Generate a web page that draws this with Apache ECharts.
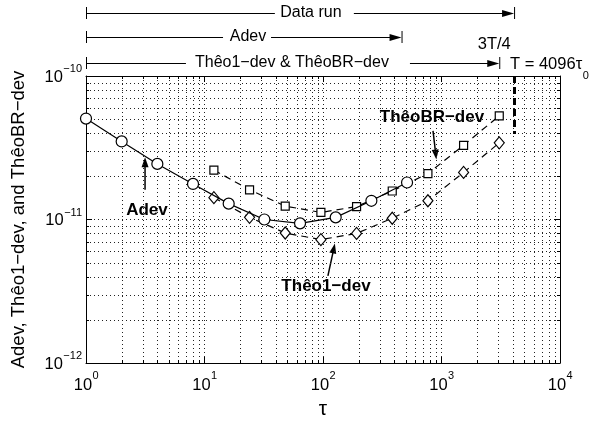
<!DOCTYPE html>
<html><head><meta charset="utf-8">
<script src="https://cdn.jsdelivr.net/npm/echarts@6/dist/echarts.min.js"></script>
<style>html,body{margin:0;padding:0;background:#fff}#c{width:601px;height:425px}</style>
</head><body><div id="c"></div>
<script>
// ---- data ----
const tauAdev = [1, 2, 4, 8, 16, 32, 64, 128, 256, 512];
const adev = [5.05e-11, 3.5e-11, 2.44e-11, 1.77e-11, 1.29e-11, 1.0e-11, 9.4e-12, 1.035e-11, 1.35e-11, 1.81e-11];
const tauTheo = [12, 24, 48, 96, 192, 384, 768, 1536, 3072];
const theoBR = [2.21e-11, 1.61e-11, 1.24e-11, 1.12e-11, 1.23e-11, 1.58e-11, 2.09e-11, 3.29e-11, 5.28e-11];
const theo1 = [1.42e-11, 1.035e-11, 8.05e-12, 7.24e-12, 8.0e-12, 1.02e-11, 1.35e-11, 2.13e-11, 3.42e-11];
const xRange = [1, 10000];
const yRange = [1e-12, 1e-10];
const xTickValues = [1, 10, 100, 1000, 10000];
const xTickExponents = ['0', '1', '2', '3', '4'];
const yTickValues = [1e-12, 1e-11, 1e-10];
const yTickExponents = ['\u221212', '\u221211', '\u221210'];
const xDecades = [1, 10, 100, 1000];
const yDecades = [1e-12, 1e-11];
const minorMultipliers = [2, 3, 4, 5, 6, 7, 8, 9];
const dataRunEnd = 4096, adevRangeEnd = 460, theoRangeEnd = 3072;
const tLineBottom = 3.95e-11;

const FONT = '"Liberation Sans", Arial, Helvetica, sans-serif';
const BLACK = '#000';
const GRID = '#222';
const dotted = [1, 3];

const xMinor = [], yMinor = [];
xDecades.forEach(d => minorMultipliers.forEach(m => xMinor.push(m * d)));
yDecades.forEach(d => minorMultipliers.forEach(m => yMinor.push(m * d)));

function baseAxis(extra) {
  return Object.assign({
    type: 'log', logBase: 10,
    axisLine: { show: true, lineStyle: { color: BLACK, width: 1 } },
    axisTick: { show: true, inside: true, length: 6, lineStyle: { color: BLACK } },
    axisLabel: { show: false },
    splitLine: { show: false },
    minorTick: { show: false }, minorSplitLine: { show: false }
  }, extra);
}

const chart = echarts.init(document.getElementById('c'));
const option = {
  animation: false,
  backgroundColor: '#fff',
  grid: { left: 86, right: 41, top: 76, bottom: 56, containLabel: false },
  xAxis: [
    baseAxis({ min: xRange[0], max: xRange[1], splitNumber: 4, position: 'bottom',
      splitLine: { show: true, lineStyle: { color: GRID, type: dotted, width: 1 } },
      name: '\u03c4', nameLocation: 'middle', nameGap: 36,
      nameTextStyle: { fontSize: 21, fontFamily: FONT, color: BLACK } }),
    baseAxis({ min: xRange[0], max: xRange[1], splitNumber: 4, position: 'top' })
  ],
  yAxis: [
    baseAxis({ min: yRange[0], max: yRange[1], splitNumber: 2, position: 'left',
      splitLine: { show: true, lineStyle: { color: GRID, type: dotted, width: 1 } },
      name: 'Adev, Th\u00eao1\u2212dev, and Th\u00eaoBR\u2212dev', nameLocation: 'middle', nameGap: 58, nameRotate: 90,
      nameTextStyle: { fontSize: 18.5, fontFamily: FONT, color: BLACK } }),
    baseAxis({ min: yRange[0], max: yRange[1], splitNumber: 2, position: 'right' })
  ],
  series: [
    { type: 'custom', silent: true, z: 1, clip: false,
      data: xMinor.map(v => [v, yRange[0]]),
      renderItem: function (params, api) {
        const cs = params.coordSys;
        const x = Math.round(api.coord([api.value(0), yRange[0]])[0]) + 0.5;
        const top = cs.y, bot = cs.y + cs.height;
        return { type: 'group', children: [
          { type: 'line', shape: { x1: x, y1: top, x2: x, y2: bot }, style: { stroke: GRID, lineWidth: 1, lineDash: dotted } },
          { type: 'line', shape: { x1: x, y1: bot, x2: x, y2: bot - 3 }, style: { stroke: BLACK, lineWidth: 1 } },
          { type: 'line', shape: { x1: x, y1: top, x2: x, y2: top + 3 }, style: { stroke: BLACK, lineWidth: 1 } }
        ] };
      } },
    { type: 'custom', silent: true, z: 1, clip: false,
      data: yMinor.map(v => [xRange[0], v]),
      renderItem: function (params, api) {
        const cs = params.coordSys;
        const y = Math.round(api.coord([xRange[0], api.value(1)])[1]) + 0.5;
        const l = cs.x, r = cs.x + cs.width;
        return { type: 'group', children: [
          { type: 'line', shape: { x1: l, y1: y, x2: r, y2: y }, style: { stroke: GRID, lineWidth: 1, lineDash: dotted } },
          { type: 'line', shape: { x1: l, y1: y, x2: l + 3, y2: y }, style: { stroke: BLACK, lineWidth: 1 } },
          { type: 'line', shape: { x1: r, y1: y, x2: r - 3, y2: y }, style: { stroke: BLACK, lineWidth: 1 } }
        ] };
      } },
    { type: 'line', name: 'Adev', z: 5,
      data: tauAdev.map((t, i) => [t, adev[i]]),
      symbol: 'circle', symbolSize: 11,
      lineStyle: { color: BLACK, width: 1.2 },
      itemStyle: { color: '#fff', borderColor: BLACK, borderWidth: 1.2 },
      emphasis: { disabled: true },
      markLine: { silent: true, symbol: ['none', 'none'], label: { show: false },
        lineStyle: { color: BLACK, width: 3, type: [7, 4] },
        data: [[{ coord: [dataRunEnd, yRange[1]] }, { coord: [dataRunEnd, tLineBottom] }]] } },
    { type: 'line', name: 'Th\u00eaoBR-dev', z: 4,
      data: tauTheo.map((t, i) => [t, theoBR[i]]),
      symbol: 'rect', symbolSize: 8,
      lineStyle: { color: BLACK, width: 1.2, type: [7, 5] },
      itemStyle: { color: '#fff', borderColor: BLACK, borderWidth: 1.2 },
      emphasis: { disabled: true } },
    { type: 'line', name: 'Th\u00eao1-dev', z: 4,
      data: tauTheo.map((t, i) => [t, theo1[i]]),
      symbol: 'diamond', symbolSize: [10, 12],
      lineStyle: { color: BLACK, width: 1.2, type: [7, 5] },
      itemStyle: { color: '#fff', borderColor: BLACK, borderWidth: 1.2 },
      emphasis: { disabled: true } }
  ]
};
chart.setOption(option);

// ---- helpers ----
const mctx = document.createElement('canvas').getContext('2d');
function tw(t, size, weight) { mctx.font = (weight || 'normal') + ' ' + size + 'px ' + FONT; return mctx.measureText(t).width; }
function px(p) { return chart.convertToPixel({ gridIndex: 0 }, p); }
function xpx(v) { return chart.convertToPixel({ xAxisIndex: 0 }, v); }
function ypx(v) { return chart.convertToPixel({ yAxisIndex: 0 }, v); }
function arrow(p1, p2, len, half, w) {
  const dx = p2[0] - p1[0], dy = p2[1] - p1[1];
  const L = Math.hypot(dx, dy), ux = dx / L, uy = dy / L;
  const bx = p2[0] - ux * len, by = p2[1] - uy * len;
  return [
    { type: 'line', silent: true, shape: { x1: p1[0], y1: p1[1], x2: bx + ux, y2: by + uy }, style: { stroke: BLACK, lineWidth: w } },
    { type: 'polygon', silent: true, shape: { points: [[p2[0], p2[1]], [bx - uy * half, by + ux * half], [bx + uy * half, by - ux * half]] }, style: { fill: BLACK } }
  ];
}
function text(x, y, t, opts) {
  return { type: 'text', silent: true, x: x, y: y, z: 100,
    style: Object.assign({ text: t, fill: BLACK, fontFamily: FONT, fontSize: 16, align: 'center', verticalAlign: 'middle' }, opts || {}) };
}
function rangeArrow(y, x0, x1, label, textX, gapL, gapR) {
  const out = [];
  out.push({ type: 'line', silent: true, shape: { x1: x0 + 0.5, y1: y - 6, x2: x0 + 0.5, y2: y + 6 }, style: { stroke: BLACK, lineWidth: 1 } });
  out.push({ type: 'line', silent: true, shape: { x1: x1 + 0.5, y1: y - 6, x2: x1 + 0.5, y2: y + 6 }, style: { stroke: BLACK, lineWidth: 1 } });
  out.push({ type: 'line', silent: true, shape: { x1: x0, y1: y + 0.5, x2: textX - gapL, y2: y + 0.5 }, style: { stroke: BLACK, lineWidth: 1 } });
  out.push.apply(out, arrow([textX + gapR, y + 0.5], [x1, y + 0.5], 12, 3.5, 1));
  out.push(text(textX, y, label));
  return out;
}

const g = [];
const BASE = 16.5, SUP = 11;
// x tick labels: 10^k, centred under each major tick
xTickValues.forEach((v, i) => {
  const x = xpx(v), wb = tw('10', BASE), ws = tw(xTickExponents[i], SUP);
  const x0 = x - (wb + ws) / 2;
  const yb = ypx(yRange[0]);
  g.push(text(x0, yb + 22, '10', { align: 'left', fontSize: BASE }));
  g.push(text(x0 + wb + 0.5, yb + 13, xTickExponents[i], { align: 'left', fontSize: SUP }));
});
// y tick labels: right-aligned left of the axis
yTickValues.forEach((v, i) => {
  const y = ypx(v), xl = xpx(xRange[0]) - 4;
  const ws = tw(yTickExponents[i], SUP);
  g.push(text(xl, y - 7, yTickExponents[i], { align: 'right', fontSize: SUP }));
  g.push(text(xl - ws - 0.5, y + 1, '10', { align: 'right', fontSize: BASE }));
});

const x1 = xpx(xRange[0]);
g.push.apply(g, rangeArrow(13, x1, xpx(dataRunEnd), 'Data run', xpx(79), 36, 43));
g.push.apply(g, rangeArrow(37, x1, xpx(adevRangeEnd), 'Adev', xpx(23.3), 25, 23));
g.push.apply(g, rangeArrow(63, x1, xpx(theoRangeEnd), 'Th\u00eao1\u2212dev & Th\u00eaoBR\u2212dev', xpx(54.7), 106, 118));
g.push(text(xpx(theoRangeEnd) - 5, 44, '3T/4', { fontSize: BASE }));
const tLabel = 'T = 4096\u03c4';
const tx = xpx(dataRunEnd) - 4;
g.push(text(tx, 64, tLabel, { align: 'left', fontSize: BASE }));
g.push(text(tx + tw(tLabel, BASE) + 0.5, 76, '0', { align: 'left', fontSize: SUP }));

// in-plot labels and arrows
const bold = { fontWeight: 'bold', fontSize: 17 };
g.push.apply(g, arrow(px([3.15, 1.61e-11]), px([3.15, 2.71e-11]), 10, 3.5, 1.5));
const pA = px([3.27, 1.16e-11]); g.push(text(pA[0], pA[1], 'Adev', bold));
g.push.apply(g, arrow(px([848, 4.15e-11]), px([905, 2.62e-11]), 10, 3.5, 1.5));
const pB = px([831, 5.17e-11]); g.push(text(pB[0], pB[1], 'Th\u00eaoBR\u2212dev', bold));
g.push.apply(g, arrow(px([110, 4.05e-12]), px([126, 6.8e-12]), 10, 3.5, 1.5));
const pT = px([106, 3.4e-12]); g.push(text(pT[0], pT[1], 'Th\u00eao1\u2212dev', bold));

chart.setOption({ graphic: g });
</script>
</body></html>
